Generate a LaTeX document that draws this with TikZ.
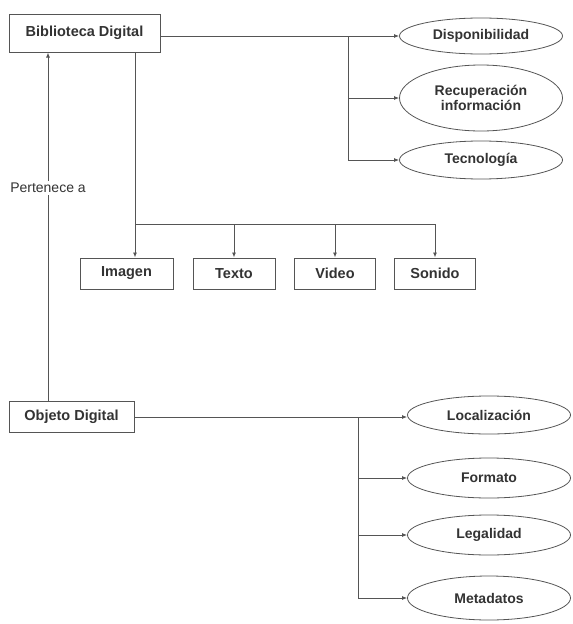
\documentclass[tikz,border=0pt]{standalone}
\usepackage{fontspec}
\setmainfont{Liberation Sans}
\usetikzlibrary{arrows.meta,shapes.geometric}
\definecolor{ln}{HTML}{555555}
\definecolor{tx}{HTML}{333333}
\begin{document}
\begin{tikzpicture}[x=1pt,y=-1pt,
  boxnode/.style={draw=ln,line width=1pt,rectangle,inner sep=0pt,text=tx,font=\bfseries\fontsize{14.5}{16}\selectfont},
  ellnode/.style={draw=ln,line width=0.8pt,ellipse,inner sep=0pt,minimum width=163pt,text=tx,align=center,font=\bfseries\fontsize{14}{15.5}\selectfont},
  conn/.style={draw=ln,line width=0.9pt},
  arr/.style={conn,-{Latex[length=5pt,width=4pt]}}]
\fill[white] (0,0) rectangle (573,624);
\useasboundingbox (0,0) rectangle (573,624);

\node[boxnode,minimum width=151pt,minimum height=38pt] (bib) at (84.5,33) {Biblioteca Digital};
\node[boxnode,minimum width=125pt,minimum height=31pt] (obj) at (71.5,416.5) {Objeto Digital};

\node[ellnode,minimum height=36pt] (dis) at (481,36) {Disponibilidad};
\node[ellnode,minimum height=66pt] (rec) at (481,98) {Recuperación\\información};
\node[ellnode,minimum height=38pt] (tec) at (481,160) {Tecnología};

\node[boxnode,minimum width=93pt,minimum height=31pt] (ima) at (126.5,273.5) {Imagen};
\node[boxnode,minimum width=82pt,minimum height=31pt] (tex) at (234,273.5) {\raisebox{-2pt}{Texto}};
\node[boxnode,minimum width=81pt,minimum height=31pt] (vid) at (335,273.5) {Video};
\node[boxnode,minimum width=81pt,minimum height=31pt] (son) at (435,273.5) {Sonido};

\node[ellnode,minimum height=38pt] (loc) at (489,415) {Localización};
\node[ellnode,minimum height=40pt] (for) at (489,478) {Formato};
\node[ellnode,minimum height=40pt] (leg) at (489,535) {Legalidad};
\node[ellnode,minimum height=44pt] (met) at (489,598) {Metadatos};

% Biblioteca -> right ellipses
\coordinate (j1) at (348,36);
\draw[conn] (bib.east |- j1) -- (j1);
\draw[arr] (j1) -- (dis.west);
\draw[arr] (j1) |- (rec.west);
\draw[arr] (j1) |- (tec.west);

% Biblioteca -> media
\coordinate (j2) at (135,224);
\draw[conn] (bib.south -| j2) -- (j2);
\draw[arr] (j2) -- (ima.north -| j2);
\draw[arr] (j2) -| (tex.north);
\draw[arr] (j2) -| (vid.north);
\draw[arr] (j2) -| (son.north);

% Objeto -> Biblioteca
\coordinate (p) at (48,0);
\draw[arr] (obj.north -| p) -- node[pos=0.61,fill=white,inner sep=2pt,text=tx,font=\fontsize{14}{16}\selectfont]{Pertenece a} (bib.south -| p);

% Objeto -> right ellipses
\coordinate (j3) at (358,417);
\draw[conn] (obj.east |- j3) -- (j3);
\draw[arr] (j3) -- (loc.west |- j3);
\draw[arr] (j3) |- (for.west);
\draw[arr] (j3) |- (leg.west);
\draw[arr] (j3) |- (met.west);
\end{tikzpicture}
\end{document}
